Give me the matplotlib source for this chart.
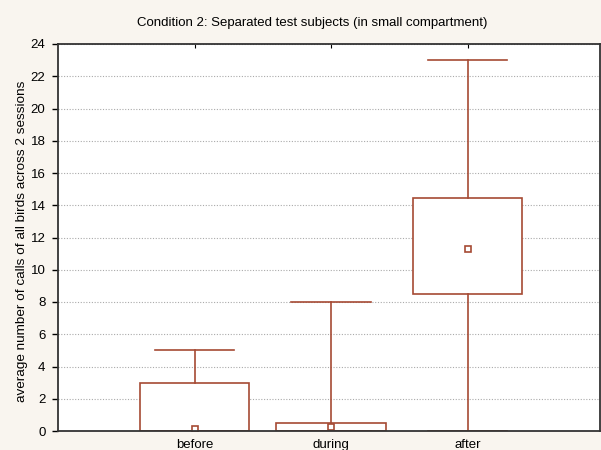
import matplotlib.pyplot as plt

plt.rcParams['font.family'] = ['Liberation Sans', 'DejaVu Sans']

groups = ['before', 'during', 'after']
medians = [0.12, 0.25, 11.3]
q1 = [0.0, 0.0, 8.5]
q3 = [3.0, 0.5, 14.45]
lows = [0.0, 0.0, 0.0]
highs = [5.0, 8.0, 23.0]

red = '#a64a34'
bg = '#f9f5ef'

fig = plt.figure(figsize=(6.01, 4.5), dpi=100, facecolor=bg)
ax = fig.add_axes([58/601, 1 - 431/450, 542/601, 387/450])

stats = []
for g, m, a, b, lo, hi in zip(groups, medians, q1, q3, lows, highs):
    stats.append(dict(label=g, med=m, q1=a, q3=b, whislo=lo, whishi=hi,
                      mean=m, fliers=[]))

ax.bxp(stats, positions=[1, 2, 3], widths=0.8, capwidths=0.58,
       patch_artist=True, showmeans=True, showfliers=False,
       boxprops=dict(facecolor='white', edgecolor=red, linewidth=1.2),
       whiskerprops=dict(color=red, linewidth=1.2),
       capprops=dict(color=red, linewidth=1.2),
       medianprops=dict(linestyle='none'),
       meanprops=dict(marker='s', markersize=4, markerfacecolor='white',
                      markeredgecolor=red, markeredgewidth=1.2),
       zorder=3)

ax.set_xlim(0, 542/136.5)
ax.set_ylim(0, 24)
ax.set_yticks(range(0, 25, 2))
ax.set_xticks([1, 2, 3])
ax.set_xticklabels(groups, fontsize=9.5)
ax.tick_params(axis='y', labelsize=9.5, length=4, width=1, direction='out', pad=5)
ax.tick_params(axis='x', length=3, top=True, bottom=False, direction='in', pad=6)

ax.yaxis.grid(True, linestyle=(0, (1, 1.5)), color='#aaaaaa', linewidth=0.8)
ax.set_axisbelow(True)
for s in ax.spines.values():
    s.set_color('#333333')
    s.set_linewidth(1.3)
    s.set_zorder(5)

ax.set_ylabel('average number of calls of all birds across 2 sessions', fontsize=9.7)
ax.yaxis.set_label_coords(-30/542, 0.49)
fig.text(312/601, 1 - 23/450, 'Condition 2: Separated test subjects (in small compartment)',
         ha='center', va='center', fontsize=9.5)

fig.savefig('out.png', dpi=100, facecolor=bg)
